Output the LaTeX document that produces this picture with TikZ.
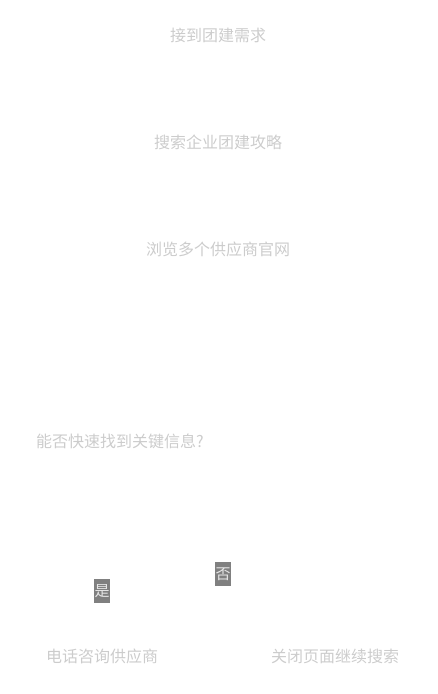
\documentclass[tikz,border=0pt]{standalone}
\usepackage{fontspec}
\setmainfont{Noto Sans CJK SC}
\usetikzlibrary{positioning}
\definecolor{txtgray}{HTML}{CCCCCC}
\definecolor{lblgray}{HTML}{808080}
\definecolor{lbltxt}{HTML}{E6E6E6}
\begin{document}
\begin{tikzpicture}[x=1pt, y=-1pt, node distance={92pt}, stepbox/.style = {text=txtgray, font=\fontsize{16}{19}\selectfont, inner sep=0pt}, lbl/.style = {fill=lblgray, text=lbltxt, font=\fontsize{15}{18}\selectfont, minimum width=16pt, minimum height=24pt, inner sep=0pt}]
    \useasboundingbox (0,0) rectangle (438,694);
    \node[stepbox] (1) at (218,35) {接到团建需求};
    \node[stepbox] (2) [below=of 1] {搜索企业团建攻略};
    \node[stepbox] (3) [below=of 2] {浏览多个供应商官网};
    \node[stepbox] (4) at (120,441) {能否快速找到关键信息?};
    \node[stepbox] (5) at (102,656) {电话咨询供应商};
    \node[stepbox] (6) at (335,656) {关闭页面继续搜索};
    \node[lbl] (yes) at (102,591) {是};
    \node[lbl] (no) at (223,574) {否};
  \end{tikzpicture}
\end{document}
